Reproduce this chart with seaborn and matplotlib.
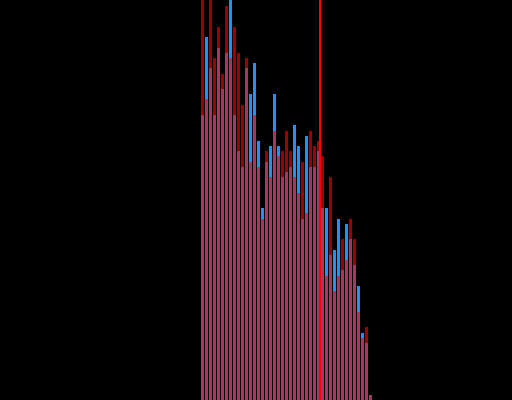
import numpy as np
import pandas as pd
import matplotlib
matplotlib.use("Agg")
import matplotlib.pyplot as plt
import seaborn as sns

# ── data: counts per bin for the two overlapping histograms ──────────────────
bins = list(range(43))
blue_counts = [55, 70, 64, 55, 68, 60, 67, 80, 55, 48,
               45, 64, 59, 65, 50, 37, 46, 49, 59, 49,
               43, 44, 45, 53, 49, 35, 51, 45, 45, 48,
               37, 37, 28, 29, 35, 25, 34, 31, 26, 22,
               13, 11, 1]
red_counts = [82, 58, 80, 66, 72, 63, 76, 66, 72, 67,
              57, 66, 46, 55, 45, 35, 48, 43, 52, 47,
              48, 52, 48, 43, 40, 46, 36, 52, 49, 50,
              47, 24, 43, 21, 24, 31, 27, 35, 31, 17,
              12, 14, 1]
marker_bin = 29.45   # vertical reference line

df = pd.DataFrame({"bin": bins, "blue": blue_counts, "red": red_counts})

DPI = 100
fig = plt.figure(figsize=(5.12, 4.0), dpi=DPI, facecolor="black")
ax = fig.add_axes([0, 0, 1, 1])
ax.set_facecolor("black")

sns.barplot(data=df, x="bin", y="blue", color="#1E90FF", saturation=1,
            width=0.75, errorbar=None, linewidth=0, ax=ax)
sns.barplot(data=df, x="bin", y="red", color="red", saturation=1,
            width=0.75, errorbar=None, linewidth=0, alpha=0.62, ax=ax)
ax.axvline(marker_bin, color="#ff0000", lw=1.5 * 72 / DPI, zorder=5,
           antialiased=False)

ax.set_xlim(-50.625, 77.375)
ax.set_ylim(0, 77.2)
ax.axis("off")

fig.savefig("out.png", dpi=DPI, facecolor="black")
